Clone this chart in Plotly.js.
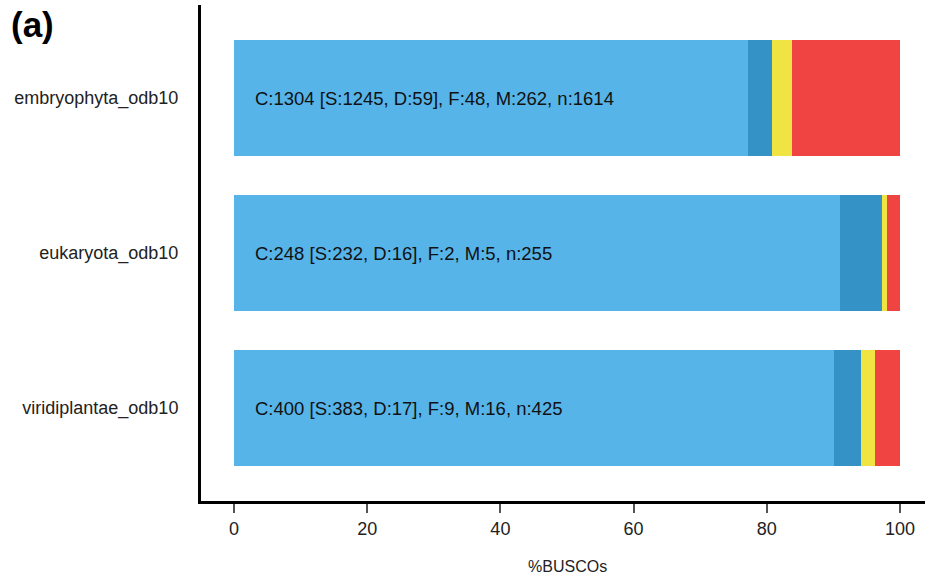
<!DOCTYPE html>
<html><head><meta charset="utf-8">
<script src="https://cdn.plot.ly/plotly-3.0.1.min.js"></script>
<style>html,body{margin:0;padding:0;background:#fff}#chart{width:925px;height:579px}</style>
</head><body><div id="chart"></div>
<script>
const categories = ['embryophyta_odb10', 'eukaryota_odb10', 'viridiplantae_odb10'];
// percentages (S, D, F, M)
const singleCopy = [77.14, 90.98, 90.12];
const duplicated = [3.66, 6.27, 4.00];
const fragmented = [2.97, 0.78, 2.12];
const missing = [16.23, 1.96, 3.76];
const barLabels = [
  'C:1304 [S:1245, D:59], F:48, M:262, n:1614',
  'C:248 [S:232, D:16], F:2, M:5, n:255',
  'C:400 [S:383, D:17], F:9, M:16, n:425'
];
const xTicks = [0, 20, 40, 60, 80, 100];

const colors = ['#56B4E9', '#3492C7', '#F0E442', '#F04442'];
const series = [singleCopy, duplicated, fragmented, missing];
const traces = series.map((v, i) => ({
  type: 'bar', orientation: 'h', y: categories, x: v,
  marker: {color: colors[i], line: {width: 0}}, width: 0.75,
  hoverinfo: 'skip', showlegend: false
}));

const FONT = 'Liberation Sans, Arial, sans-serif';
const annotations = barLabels.map((t, i) => ({
  x: 2.8, y: categories[i], xref: 'x', yref: 'y', text: t, showarrow: false,
  xanchor: 'left', yanchor: 'middle', font: {family: FONT, size: 18.5, color: '#111'}
}));
annotations.push({
  x: 50, y: 0, xref: 'x', yref: 'paper', yshift: -65, text: '%BUSCOs', showarrow: false,
  xanchor: 'center', yanchor: 'middle', font: {family: FONT, size: 16, color: '#222'}
});
const W = 925, H = 579, mL = 201, mR = 0, mT = 5, mB = 78;
annotations.push({
  x: (9 - mL) / (W - mL - mR), y: 1 - (24 - mT) / (H - mT - mB), xref: 'paper', yref: 'paper',
  text: '<b>(a)</b>', showarrow: false,
  xanchor: 'left', yanchor: 'middle', font: {family: FONT, size: 35, color: '#000'}
});

const layout = {
  width: W, height: H, barmode: 'stack', bargap: 0.25,
  margin: {l: mL, r: mR, t: mT, b: mB, pad: 0},
  paper_bgcolor: '#fff', plot_bgcolor: '#fff',
  font: {family: FONT, color: '#222'},
  xaxis: {
    range: [-4.95, 103.75], tickvals: xTicks, ticktext: xTicks.map(String),
    ticks: 'outside', ticklen: 9, tickwidth: 2, tickcolor: '#555',
    showline: true, linecolor: '#000', linewidth: 3, showgrid: false, zeroline: false,
    tickfont: {size: 18, color: '#222'}
  },
  yaxis: {
    range: [2.6, -0.6], type: 'category',
    ticks: 'outside', ticklen: 16, tickcolor: 'rgba(0,0,0,0)',
    showline: true, linecolor: '#000', linewidth: 3, showgrid: false, zeroline: false,
    tickfont: {size: 18, color: '#222'}
  },
  annotations: annotations
};
Plotly.newPlot('chart', traces, layout, {displayModeBar: false, staticPlot: true});
</script></body></html>
